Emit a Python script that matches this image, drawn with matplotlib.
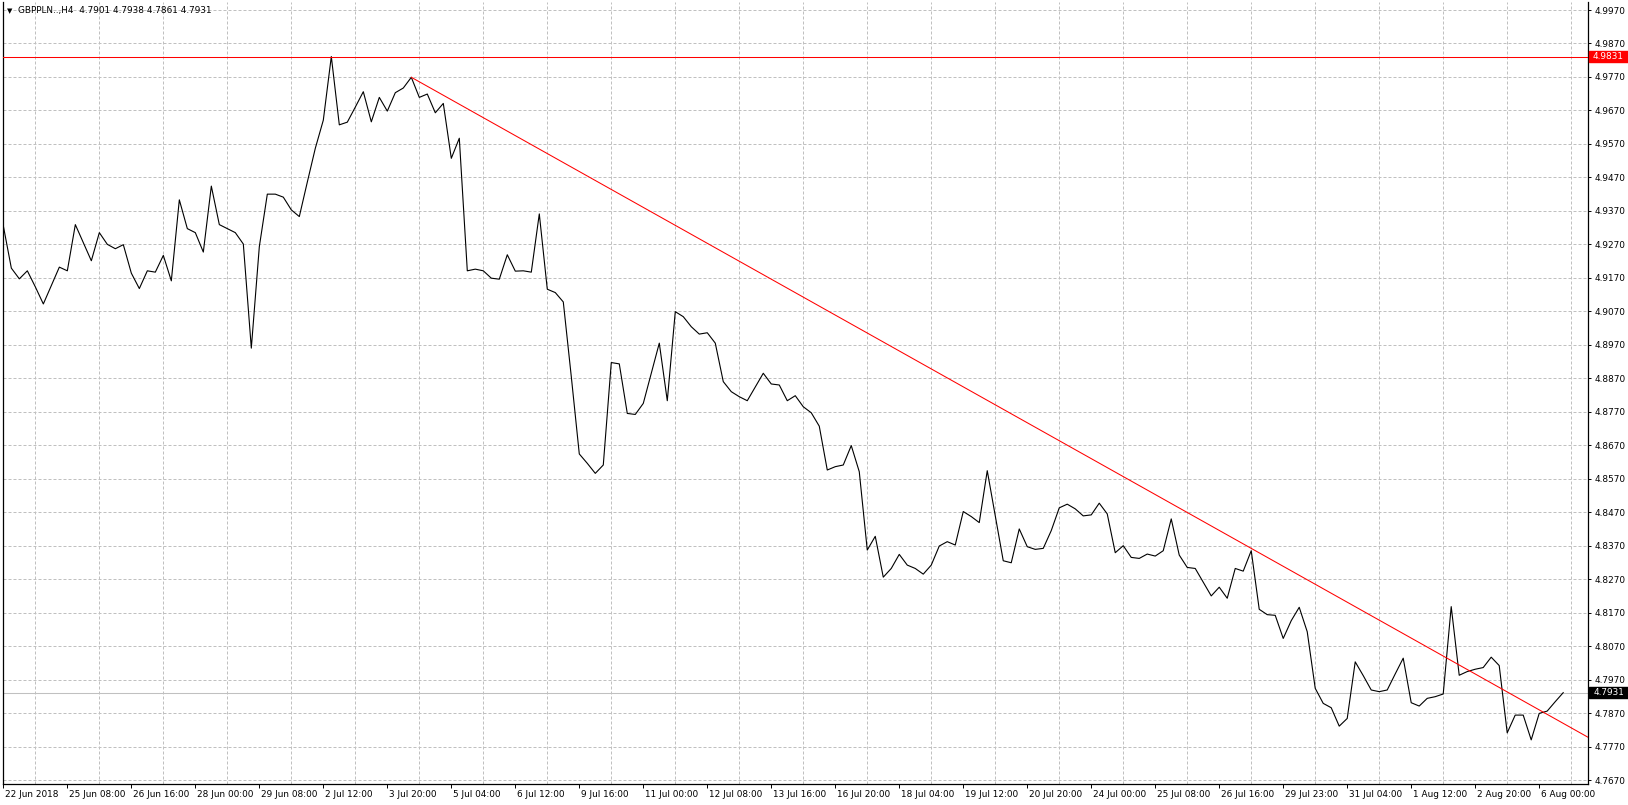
import matplotlib
matplotlib.use('Agg')
import matplotlib.pyplot as plt
import matplotlib.transforms as mtrans
from matplotlib.ticker import MultipleLocator
from matplotlib.patches import Rectangle

# GBPPLN H4 closes, one per bar
symbol = 'GBPPLN..,H4'
last_ohlc = ['4.7901', '4.7938', '4.7861', '4.7931']

close = [
    4.9325, 4.9199, 4.9167, 4.9191, 4.9143, 4.9092, 4.9147, 4.9202, 4.9191, 4.9329,
    4.9275, 4.9221, 4.9305, 4.9270, 4.9257, 4.9269, 4.9184, 4.9138, 4.9191, 4.9187,
    4.9237, 4.9161, 4.9403, 4.9317, 4.9305, 4.9247, 4.9444, 4.9329, 4.9317, 4.9305,
    4.9271, 4.8960, 4.9263, 4.9420, 4.9420, 4.9411, 4.9373, 4.9353, 4.9456, 4.9557,
    4.9641, 4.9831, 4.9627, 4.9635, 4.9680, 4.9726, 4.9636, 4.9709, 4.9668, 4.9723,
    4.9737, 4.9769, 4.9709, 4.9719, 4.9663, 4.9691, 4.9527, 4.9587, 4.9191, 4.9196,
    4.9191, 4.9169, 4.9166, 4.9239, 4.9190, 4.9191, 4.9187, 4.9361, 4.9136, 4.9126,
    4.9098, 4.8875, 4.8644, 4.8616, 4.8586, 4.8611, 4.8917, 4.8913, 4.8765, 4.8762,
    4.8795, 4.8885, 4.8975, 4.8803, 4.9069, 4.9054, 4.9024, 4.9002, 4.9006, 4.8975,
    4.8860, 4.8830, 4.8815, 4.8803, 4.8844, 4.8885, 4.8853, 4.8850, 4.8803, 4.8818,
    4.8785, 4.8767, 4.8727, 4.8596, 4.8606, 4.8611, 4.8669, 4.8591, 4.8357, 4.8398,
    4.8276, 4.8302, 4.8344, 4.8312, 4.8302, 4.8285, 4.8312, 4.8369, 4.8382, 4.8372,
    4.8472, 4.8457, 4.8439, 4.8594, 4.8460, 4.8325, 4.8319, 4.8420, 4.8367, 4.8359,
    4.8362, 4.8415, 4.8483, 4.8494, 4.8480, 4.8459, 4.8462, 4.8497, 4.8465, 4.8349,
    4.8370, 4.8335, 4.8332, 4.8345, 4.8339, 4.8355, 4.8450, 4.8342, 4.8305, 4.8302,
    4.8261, 4.8220, 4.8246, 4.8213, 4.8302, 4.8294, 4.8355, 4.8180, 4.8164, 4.8162,
    4.8093, 4.8146, 4.8186, 4.8113, 4.7944, 4.7899, 4.7886, 4.7831, 4.7854, 4.8023,
    4.7982, 4.7939, 4.7934, 4.7939, 4.7987, 4.8034, 4.7901, 4.7891, 4.7914, 4.7919,
    4.7927, 4.8188, 4.7983, 4.7994, 4.8001, 4.8006, 4.8037, 4.8012, 4.7811, 4.7864,
    4.7864, 4.7790, 4.7869, 4.7876, 4.7904, 4.7931,
]

date_labels = [
    '22 Jun 2018', '25 Jun 08:00', '26 Jun 16:00', '28 Jun 00:00', '29 Jun 08:00',
    '2 Jul 12:00', '3 Jul 20:00', '5 Jul 04:00', '6 Jul 12:00', '9 Jul 16:00',
    '11 Jul 00:00', '12 Jul 08:00', '13 Jul 16:00', '16 Jul 20:00', '18 Jul 04:00',
    '19 Jul 12:00', '20 Jul 20:00', '24 Jul 00:00', '25 Jul 08:00', '26 Jul 16:00',
    '29 Jul 23:00', '31 Jul 04:00', '1 Aug 12:00', '2 Aug 20:00', '6 Aug 00:00',
]
label_every = 8   # bars between date labels
grid_every = 4    # bars between vertical grid lines

price_ticks = ['4.7670', '4.7770', '4.7870', '4.7970', '4.8070', '4.8170', '4.8270',
               '4.8370', '4.8470', '4.8570', '4.8670', '4.8770', '4.8870', '4.8970',
               '4.9070', '4.9170', '4.9270', '4.9370', '4.9470', '4.9570', '4.9670',
               '4.9770', '4.9870', '4.9970']

high_level = 4.9831
last_price = 4.7931
# trend line anchors (bar, price); drawn as a ray to the right
trend_a = (51, 4.9769)
trend_b = (156, 4.8362)
trend_end_bar = 205

W, H = 1628, 805
fig = plt.figure(figsize=(W / 100, H / 100), dpi=100)
ax = fig.add_axes([2.7 / W, 21 / H, (1588 - 2.7) / W, 782 / H])

fs = 6.4
grid_col = '#c0c0c0'

bars = list(range(len(close)))
ax.plot(bars, close, color='black', lw=0.8, zorder=3)

# trend line
slope = (trend_b[1] - trend_a[1]) / (trend_b[0] - trend_a[0])
tx = [trend_a[0], trend_end_bar]
ty = [trend_a[1], trend_a[1] + slope * (trend_end_bar - trend_a[0])]
ax.plot(tx, ty, color='#ff0000', lw=0.75, zorder=4)

# horizontal lines
ax.axhline(high_level, color='#ff0000', lw=0.75, zorder=4)
ax.axhline(last_price, color='#c0c0c0', lw=0.75, zorder=2)

ax.set_xlim(-0.08, 198.1)
ax.set_ylim(4.76582, 4.99939)

# grid
yt = [float(t) for t in price_ticks]
ax.set_yticks(yt)
ax.set_yticklabels(price_ticks)
ax.yaxis.tick_right()
ax.tick_params(axis='y', which='major', direction='out', length=2.2, width=0.7,
               pad=2.5, labelsize=fs, colors='black')

ax.set_xticks(list(range(0, len(date_labels) * label_every, label_every)))
ax.set_xticklabels(date_labels, ha='left')
ax.xaxis.set_minor_locator(MultipleLocator(grid_every))
ax.tick_params(axis='x', which='major', direction='out', length=3, width=0.7,
               pad=1.5, labelsize=fs)
ax.tick_params(axis='x', which='minor', length=0)
offset = mtrans.ScaledTranslation(2 / 100, 0, fig.dpi_scale_trans)
for lab in ax.get_xticklabels():
    lab.set_transform(lab.get_transform() + offset)

ax.grid(True, axis='y', which='major', color=grid_col, lw=0.72, linestyle=(0, (3, 2)))
ax.grid(True, axis='x', which='minor', color=grid_col, lw=0.72, linestyle=(0, (3, 2)))
ax.set_axisbelow(True)

for s in ['left', 'right', 'bottom']:
    ax.spines[s].set_color('black')
    ax.spines[s].set_linewidth(0.9)
ax.spines['top'].set_visible(False)

# price boxes on the right scale
blend = mtrans.blended_transform_factory(fig.transFigure, ax.transData)
box_h = 11 / 3348
for level, col in [(high_level, '#ff0000'), (last_price, 'black')]:
    ax.add_patch(Rectangle((1589 / W, level - box_h / 2), 39 / W, box_h,
                           transform=blend, color=col, clip_on=False, zorder=5))
    ax.text(1608.5 / W, level, '%.4f' % level, transform=blend, color='white',
            fontsize=fs, ha='center', va='center', zorder=6, clip_on=False)

# header
fig.text(7 / W, 1 - 11 / H, '▼', fontsize=5, va='center', ha='left', color='black')
fig.text(18 / W, 1 - 11 / H, symbol + '  ' + ' '.join(last_ohlc), fontsize=fs,
         va='center', ha='left', color='black')

fig.savefig('out.png', dpi=100, facecolor='white')
